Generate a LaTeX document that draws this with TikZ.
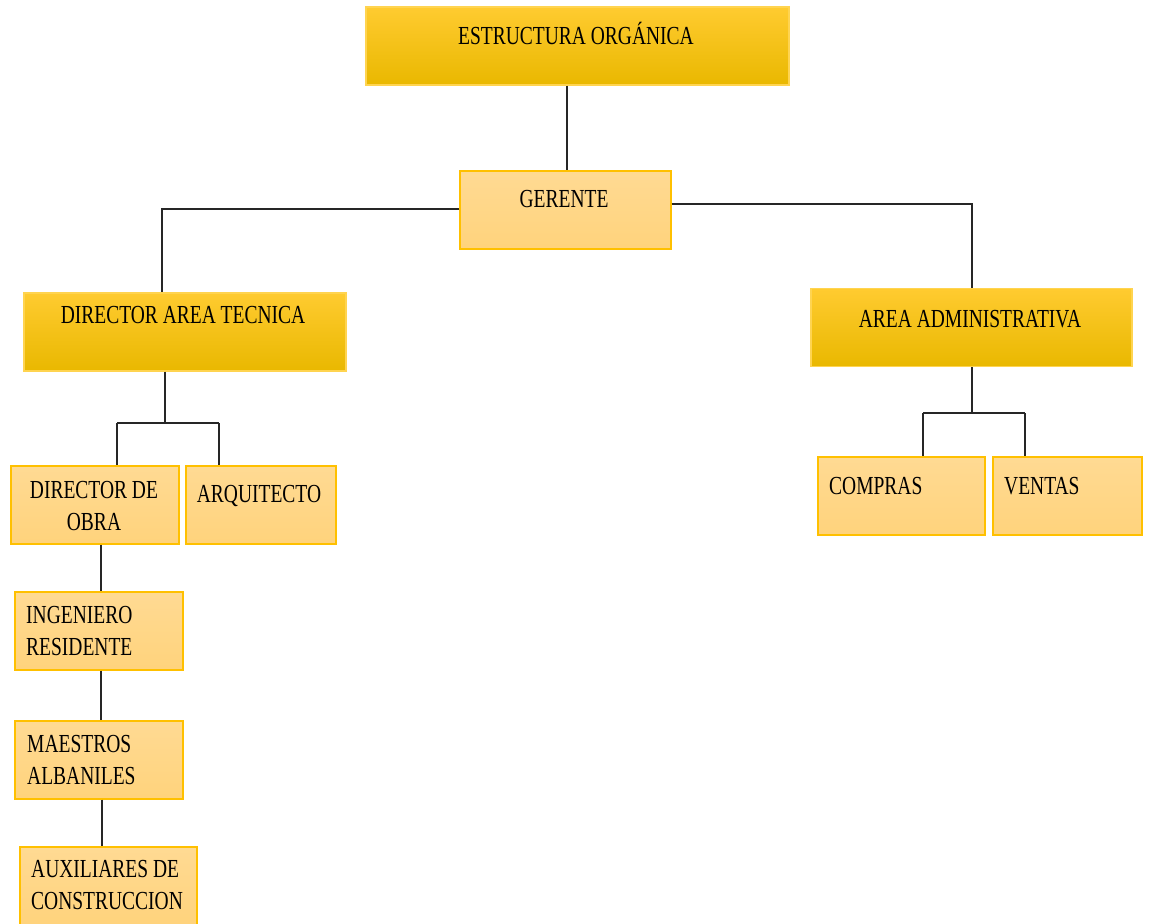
\documentclass[tikz,border=0pt]{standalone}
\usepackage{fontspec}
\newfontfamily\orgfont{Liberation Serif}[FakeStretch=0.75]
\usepackage{tikz}
\usetikzlibrary{positioning}
\definecolor{gtop}{HTML}{FFCB30}
\definecolor{gmid}{HTML}{FFC300}
\definecolor{gbot}{HTML}{E9B800}
\definecolor{gline}{HTML}{FFD450}
\definecolor{ltop}{HTML}{FFDA93}
\definecolor{lbot}{HTML}{FFD37C}
\definecolor{lline}{HTML}{FFC000}

\tikzset{
  darkbox/.style={rectangle, draw=gline, line width=1.3pt, top color=gtop,
    middle color=gmid, bottom color=gbot, minimum height=78pt, inner sep=0pt},
  lightbox/.style={rectangle, draw=lline, line width=1.3pt, top color=ltop,
    bottom color=lbot, minimum height=78pt, inner sep=0pt},
  lbl/.style={font=\orgfont\fontsize{26}{32}\selectfont, inner sep=0pt},
  conn/.style={line width=1.4pt, black!85}
}

\begin{document}
\begin{tikzpicture}[x=1pt, y=1pt]
    \useasboundingbox (0,0) rectangle (1149,-924);
    % boxes
    \node[darkbox, minimum width=423pt] (estructura) at (577.5,-46) {};
    \node[lightbox, minimum width=211pt] (gerente) at (565.5,-210) {};
    \node[darkbox, minimum width=322pt] (tecnica) at (185,-332) {};
    \node[darkbox, minimum width=321pt] (admin) at (971.5,-327.5) {};
    \node[lightbox, minimum width=168pt] (dobra) at (95,-505) {};
    \node[lightbox, minimum width=150pt] (arqui) at (261,-505) {};
    \node[lightbox, minimum width=167pt] (compras) at (901.5,-496) {};
    \node[lightbox, minimum width=149pt] (ventas) at (1067.5,-496) {};
    \node[lightbox, minimum width=168pt] (ingen) at (99,-631) {};
    \node[lightbox, minimum width=168pt] (maestros) at (99,-760) {};
    \node[lightbox, minimum width=177pt] (auxil) at (108.5,-886) {};

    % texts (base of a two-line label is its last line)
    \node[lbl, anchor=base] (estructuraT) at (576,-44) {ESTRUCTURA ORGÁNICA};
    \node[lbl, anchor=base] (gerenteT) at (564,-207) {GERENTE};
    \node[lbl, anchor=base] (tecnicaT) at (183,-323) {DIRECTOR AREA TECNICA};
    \node[lbl, anchor=base] (adminT) at (970,-327) {AREA ADMINISTRATIVA};
    \node[lbl, anchor=base, align=center] (dobraT) at (94,-530)
      {DIRECTOR DE\\OBRA};
    \node[lbl, anchor=base] (arquiT) at (259,-502) {ARQUITECTO};
    \node[lbl, anchor=base west] (comprasT) at (829,-494) {COMPRAS};
    \node[lbl, anchor=base west] (ventasT) at (1004,-494) {VENTAS};
    \node[lbl, anchor=base west, align=left] (ingenT) at (26,-655)
      {INGENIERO\\RESIDENTE};
    \node[lbl, anchor=base west, align=left] (maestrosT) at (27,-784)
      {MAESTROS\\ALBANILES};
    \node[lbl, anchor=base west, align=left] (auxilT) at (31,-909)
      {AUXILIARES DE\\CONSTRUCCION};

    % connectors
    \draw[conn] (estructura.south -| 567,0) -- (gerente.north -| 567,0);
    \draw[conn] (gerente.west |- 0,-209) -| (tecnica.north -| 162,0);
    \draw[conn] (gerente.east |- 0,-204) -| (admin.north -| 972,0);
    \draw[conn] (tecnica.south -| 165,0) -- (165,-423) coordinate (tsplit);
    \draw[conn] (tsplit -| 117,0) -- (tsplit -| 219,0);
    \draw[conn] (tsplit -| 117,0) -- (dobra.north -| 117,0);
    \draw[conn] (tsplit -| 219,0) -- (arqui.north -| 219,0);
    \draw[conn] (admin.south -| 972,0) -- (972,-413) coordinate (asplit);
    \draw[conn] (asplit -| 923,0) -- (asplit -| 1025,0);
    \draw[conn] (asplit -| 923,0) -- (compras.north -| 923,0);
    \draw[conn] (asplit -| 1025,0) -- (ventas.north -| 1025,0);
    \draw[conn] (dobra.south -| 101,0) -- (ingen.north -| 101,0);
    \draw[conn] (ingen.south -| 101,0) -- (maestros.north -| 101,0);
    \draw[conn] (maestros.south -| 102,0) -- (auxil.north -| 102,0);
\end{tikzpicture}
\end{document}
